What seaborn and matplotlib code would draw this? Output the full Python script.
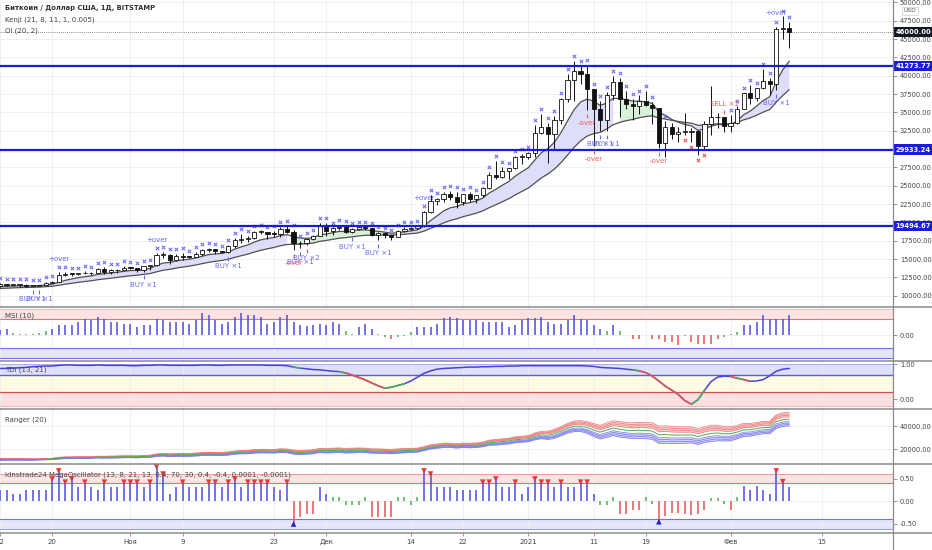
import numpy as np
import pandas as pd
import seaborn as sns
import matplotlib.pyplot as plt
from matplotlib.lines import Line2D
from matplotlib.transforms import offset_copy, blended_transform_factory

# daily candles BTC/USD (Bitstamp), 12 Oct 2020 .. 10 Feb 2021
dates = pd.date_range("2020-10-12", "2021-02-10", freq="D")
opens = [11380, 11540, 11425, 11430, 11505, 11320, 11365, 11500, 11750, 11915,
         12810, 12985, 12930, 13125, 13040, 13070, 13650, 13280, 13460, 13560,
         13800, 13760, 13550, 14030, 14150, 15590, 15590, 14830, 15480, 15330,
         15310, 15700, 16290, 16330, 16070, 15960, 16720, 17660, 17800, 17830,
         18660, 18700, 18420, 18390, 19150, 18730, 17150, 17140, 17720, 18180,
         19700, 18780, 19210, 19420, 18650, 19150, 19360, 19170, 18320, 18550,
         18250, 18030, 18800, 19150, 19270, 19440, 21350, 22850, 23140, 23870,
         23480, 22730, 23820, 23240, 23720, 24690, 26450, 26250, 27030, 27360,
         28880, 28980, 29400, 32200, 32980, 32000, 33990, 36800, 39400, 40600,
         40200, 38200, 35500, 33950, 37350, 39200, 36800, 36150, 35800, 36600,
         36050, 35550, 30850, 33000, 32100, 32300, 32300, 32500, 30400, 33400,
         34300, 34300, 33100, 33500, 35500, 37650, 36900, 38300, 39250, 38900,
         46400, 46500]
highs = [11720, 11560, 11550, 11630, 11540, 11400, 11490, 11820, 12020, 13220,
         13170, 13030, 13160, 13350, 13240, 13790, 13860, 13640, 13670, 14100,
         13900, 13820, 14070, 14250, 15760, 15970, 15690, 15650, 15840, 15460,
         15950, 16340, 16480, 16330, 16150, 16880, 17860, 18480, 18140, 18800,
         18980, 18720, 18770, 19420, 19470, 18910, 17450, 17900, 18330, 19860,
         19920, 19300, 19580, 19500, 19180, 19400, 19420, 19290, 18640, 18560,
         18270, 18940, 19400, 19320, 19550, 21550, 23770, 23290, 24170, 24300,
         24100, 23830, 24100, 23790, 24780, 26870, 28400, 27500, 27380, 28990,
         29320, 29600, 33300, 34800, 33600, 34500, 36950, 40200, 41950, 41300,
         41400, 38200, 36600, 37800, 40000, 39700, 37950, 36800, 37300, 37850,
         36400, 35600, 33800, 33500, 32950, 34900, 32900, 32550, 33800, 38600,
         34900, 34300, 34700, 35900, 37650, 38700, 38300, 40900, 39700, 46700,
         48200, 47300]
lows = [11200, 11300, 11280, 11250, 11220, 11300, 11340, 11410, 11690, 11900,
        12700, 12750, 12890, 12900, 12780, 13060, 12980, 12950, 13130, 13440,
        13630, 13200, 13300, 13530, 14100, 15200, 14380, 14720, 14820, 15080,
        15280, 15460, 15970, 15720, 15800, 15870, 16570, 17230, 17350, 17760,
        18420, 17680, 18000, 18000, 18570, 16200, 16450, 16880, 17530, 18180,
        18100, 18330, 18930, 18580, 18500, 18900, 18900, 18200, 17620, 17910,
        17580, 18000, 18700, 18900, 19050, 19300, 21230, 22350, 22800, 23070,
        22000, 22400, 22720, 22700, 23430, 24500, 25850, 26100, 25850, 27320,
        28000, 28700, 28950, 32000, 28100, 29900, 33400, 36400, 36500, 38800,
        35300, 30400, 32500, 32450, 36700, 34400, 35400, 33900, 34800, 35900,
        33400, 30100, 28850, 31400, 30900, 31950, 30900, 29240, 29900, 31950,
        32900, 32300, 32300, 33400, 35400, 36200, 36600, 38200, 37400, 38100,
        45000, 43800]
closes = [11540, 11425, 11430, 11505, 11320, 11365, 11500, 11750, 11915, 12810,
          12985, 12930, 13125, 13040, 13070, 13650, 13280, 13460, 13560, 13800,
          13760, 13550, 14030, 14150, 15590, 15590, 14830, 15480, 15330, 15310,
          15700, 16290, 16330, 16070, 15960, 16720, 17660, 17800, 17830, 18660,
          18700, 18420, 18390, 19150, 18730, 17150, 17140, 17720, 18180, 19700,
          18780, 19210, 19420, 18650, 19150, 19360, 19170, 18320, 18550, 18250,
          18030, 18800, 19150, 19270, 19440, 21350, 22850, 23140, 23870, 23480,
          22730, 23820, 23240, 23720, 24690, 26450, 26250, 27030, 27360, 28880,
          28980, 29400, 32200, 32980, 32000, 33990, 36800, 39400, 40600, 40200,
          38200, 35500, 33950, 37350, 39200, 36800, 36150, 35800, 36600, 36050,
          35550, 30850, 33000, 32100, 32300, 32300, 32500, 30400, 33400, 34300,
          34300, 33100, 33500, 35500, 37650, 36900, 38300, 39250, 38900, 46400,
          46500, 46000]

# Kenji lines: values at the left edge
kenji_fast_start = 11150
kenji_slow_start = 10930
kenji_green_spans = [("2020-11-26", "2020-12-09"), ("2021-01-15", "2021-01-21")]

# dots above / below the candles
sar_red_days = ["2021-01-25", "2021-01-26", "2021-01-27", "2021-01-28"]
sar_off_days = ["2021-01-21", "2021-01-23", "2021-01-24", "2021-01-29",
                "2021-01-30", "2021-01-31"]

signals = [
    ("2020-10-17", "BUY ×1", "buy"), ("2020-10-18", "BUY ×1", "buy"),
    ("2020-10-21", "+over", "over_up"), ("2020-11-03", "BUY ×1", "buy"),
    ("2020-11-05", "+over", "over_up"), ("2020-11-16", "BUY ×1", "buy"),
    ("2020-11-26", "-over", "over_dn"), ("2020-11-27", "BUY ×1", "buy"),
    ("2020-11-28", "BUY ×2", "buy"), ("2020-12-05", "BUY ×1", "buy"),
    ("2020-12-09", "BUY ×1", "buy"), ("2020-12-16", "+over", "over_up"),
    ("2021-01-10", "-over", "over_dn"), ("2021-01-11", "-over", "over_dn"),
    ("2021-01-12", "BUY ×1", "buy"), ("2021-01-13", "BUY ×1", "buy"),
    ("2021-01-21", "-over", "over_dn"), ("2021-01-31", "SELL ×2", "sell"),
    ("2021-02-08", "BUY ×1", "buy"), ("2021-02-08", "+over", "over_up"),
]

levels = [41273.77, 29933.24, 19494.67]
last_price = 46000.00

msi = [0.20, 0.22, 0.09, 0.03, 0.03, 0.04, 0.09, 0.17, 0.22, 0.38,
       0.38, 0.38, 0.51, 0.62, 0.58, 0.71, 0.62, 0.51, 0.51, 0.42,
       0.42, 0.32, 0.38, 0.38, 0.62, 0.58, 0.51, 0.51, 0.51, 0.42,
       0.58, 0.83, 0.77, 0.58, 0.42, 0.51, 0.71, 0.83, 0.77, 0.77,
       0.71, 0.42, 0.51, 0.71, 0.77, 0.51, 0.38, 0.35, 0.38, 0.42,
       0.38, 0.51, 0.42, 0.17, 0.04, 0.32, 0.42, 0.22, 0.03, -0.08,
       -0.17, -0.08, -0.02, 0.10, 0.32, 0.32, 0.32, 0.42, 0.64, 0.71,
       0.64, 0.58, 0.58, 0.58, 0.51, 0.51, 0.51, 0.51, 0.32, 0.38,
       0.58, 0.64, 0.64, 0.71, 0.51, 0.42, 0.42, 0.58, 0.77, 0.62,
       0.58, 0.38, 0.22, 0.17, 0.38, 0.17, 0.00, -0.17, -0.17, 0.00,
       -0.17, -0.17, -0.25, -0.25, -0.38, -0.05, -0.25, -0.33, -0.33, -0.33,
       -0.17, -0.07, 0.05, 0.13, 0.38, 0.38, 0.51, 0.77, 0.62, 0.62,
       0.62, 0.77]

tdi = [0.88, 0.88, 0.89, 0.90, 0.91, 0.93, 0.94, 0.95, 0.95, 0.97,
       0.98, 0.98, 0.97, 0.97, 0.97, 0.98, 0.97, 0.97, 0.97, 0.97,
       0.96, 0.96, 0.97, 0.97, 0.98, 0.98, 0.97, 0.97, 0.97, 0.97,
       0.97, 0.98, 0.98, 0.97, 0.97, 0.98, 0.98, 0.98, 0.98, 0.98,
       0.98, 0.97, 0.97, 0.97, 0.96, 0.92, 0.89, 0.87, 0.85, 0.84,
       0.82, 0.80, 0.79, 0.75, 0.69, 0.62, 0.55, 0.46, 0.38, 0.31,
       0.34, 0.39, 0.44, 0.52, 0.63, 0.74, 0.81, 0.86, 0.88, 0.89,
       0.90, 0.91, 0.92, 0.92, 0.93, 0.93, 0.94, 0.94, 0.95, 0.95,
       0.96, 0.96, 0.96, 0.96, 0.96, 0.96, 0.96, 0.96, 0.96, 0.96,
       0.95, 0.94, 0.91, 0.90, 0.89, 0.88, 0.86, 0.84, 0.81, 0.76,
       0.66, 0.52, 0.37, 0.25, 0.13, -0.05, -0.15, -0.02, 0.25, 0.50,
       0.63, 0.66, 0.65, 0.60, 0.56, 0.51, 0.52, 0.56, 0.67, 0.80,
       0.86, 0.88]

osc = [0.26, 0.26, 0.17, 0.17, 0.26, 0.26, 0.26, 0.26, 0.50, 0.68,
       0.43, 0.50, 0.33, 0.43, 0.33, 0.26, 0.43, 0.33, 0.33, 0.43,
       0.43, 0.43, 0.33, 0.43, 0.77, 0.61, 0.17, 0.33, 0.43, 0.33,
       0.33, 0.33, 0.43, 0.43, 0.33, 0.43, 0.50, 0.33, 0.43, 0.43,
       0.43, 0.43, 0.33, 0.26, 0.43, -0.50, -0.34, -0.27, -0.27, 0.33,
       0.17, 0.10, 0.10, -0.08, -0.08, -0.08, 0.10, -0.34, -0.34, -0.34,
       -0.34, 0.10, 0.10, -0.08, 0.10, 0.68, 0.61, 0.33, 0.33, 0.33,
       0.26, 0.26, 0.26, 0.26, 0.43, 0.43, 0.50, 0.33, 0.33, 0.43,
       0.17, 0.33, 0.50, 0.43, 0.43, 0.33, 0.43, 0.33, 0.33, 0.43,
       0.43, 0.17, -0.08, -0.08, 0.10, -0.27, -0.27, -0.20, -0.20, 0.10,
       -0.05, -0.45, -0.33, -0.25, -0.25, -0.27, -0.30, -0.27, -0.20, 0.08,
       0.08, -0.05, -0.18, 0.10, 0.34, 0.26, 0.34, 0.26, 0.17, 0.68,
       0.44, 0.33]

tick_dates = ["2020-10-12", "2020-10-20", "2020-11-01", "2020-11-09", "2020-11-23",
              "2020-12-01", "2020-12-14", "2020-12-22", "2021-01-01", "2021-01-11",
              "2021-01-19", "2021-02-01", "2021-02-15"]
tick_labels = ["12", "20", "Ноя", "9", "23", "Дек", "14", "22", "2021", "11",
               "19", "Фев", "15"]

BLUE = "#4b4be0"
GREEN = "#4caf50"
RED = "#e65353"
TXT_BLUE = "#6a6aee"
TXT_RED = "#f06060"

sns.set_theme(style="white")
plt.rcParams["font.family"] = ["DejaVu Sans"]

W, H = 932, 550
AX_R = 893
fig = plt.figure(figsize=(W / 100, H / 100), dpi=100)
fig.patch.set_facecolor("white")


def panel(top, bottom):
    ax = fig.add_axes([0, 1 - bottom / H, AX_R / W, (bottom - top) / H])
    ax.set_facecolor("white")
    for s in ax.spines.values():
        s.set_visible(False)
    return ax


ax_p = panel(0, 307)
ax_m = panel(307, 361)
ax_t = panel(361, 409)
ax_r = panel(409, 464)
ax_o = panel(464, 533)
axes = [ax_p, ax_m, ax_t, ax_r, ax_o]

x = np.arange(len(dates))
tick_idx = [(pd.Timestamp(d) - dates[0]).days for d in tick_dates]
for ax in axes:
    ax.set_xlim(0.12, 136.9)
    ax.set_xticks(tick_idx)
    ax.grid(True, color="#eeeeee", lw=0.6)
    ax.set_axisbelow(True)
    ax.yaxis.tick_right()
    ax.tick_params(axis="y", direction="out", length=3, width=0.6, color="#888888",
                   labelsize=4.8, labelcolor="#444444", pad=2, right=True, left=False)
    ax.tick_params(axis="x", bottom=False, labelbottom=False)
ax_o.tick_params(axis="x", bottom=True, labelbottom=True, direction="out", length=2.5,
                 width=0.6, color="#888888", labelsize=5, labelcolor="#444444", pad=2)
ax_o.set_xticklabels(tick_labels)

# ---- price panel
o, h, l, c = map(np.array, (opens, highs, lows, closes))
ax_p.set_ylim(8460, 50320)
ax_p.set_yticks(np.arange(10000, 50001, 2500))
ax_p.yaxis.set_major_formatter(lambda v, p: f"{v:.2f}")


def ema(values, span, start):
    a = 2.0 / (span + 1)
    out, v = [], start
    for p in values:
        v += a * (p - v)
        out.append(v)
    return np.array(out)


fast = ema(closes, 8, kenji_fast_start)
slow = ema(closes, 21, kenji_slow_start)
green = np.zeros(len(x), bool)
for a_, b_ in kenji_green_spans:
    green |= (dates >= a_) & (dates <= b_)
green_fill = green | np.roll(green, 1)
ax_p.fill_between(x, fast, slow, where=~green, color="#dedefa", lw=0, zorder=1)
ax_p.fill_between(x, fast, slow, where=green_fill, color="#d9f0d9", lw=0, zorder=1)
sns.lineplot(x=x, y=fast, ax=ax_p, color="#505050", lw=0.9, zorder=3)
sns.lineplot(x=x, y=slow, ax=ax_p, color="#505050", lw=0.9, zorder=3)

bull = c >= o
body_lo = np.minimum(o, c)
body_h = np.maximum(np.abs(c - o), 110)
ax_p.vlines(x, l, h, color="#111111", lw=0.7, zorder=4)
ax_p.bar(x, body_h, bottom=body_lo, width=0.64, color=np.where(bull, "white", "#111111"),
         edgecolor="#111111", linewidth=0.6, zorder=5)

red_m = dates.isin(pd.to_datetime(sar_red_days))
off_m = dates.isin(pd.to_datetime(sar_off_days))
blue_m = ~(red_m | off_m)
gap = 680
sns.scatterplot(x=x[blue_m], y=h[blue_m] + gap, marker="x", s=6, color="#6a6af4",
                linewidth=0.75, ax=ax_p, zorder=6)
sns.scatterplot(x=x[red_m], y=l[red_m] - gap, marker="x", s=6, color="#f05050",
                linewidth=0.75, ax=ax_p, zorder=6)

for lv in levels:
    ax_p.axhline(lv, color="#1c1cd8", lw=1.6, zorder=7)
ax_p.axhline(last_price, color="#666666", lw=0.6, ls=(0, (1, 1.5)), zorder=2)

for d, text, kind in signals:
    i = (pd.Timestamp(d) - dates[0]).days
    if kind in ("buy", "over_dn"):
        price, sgn = l[i], -1
    else:
        price, sgn = h[i], 1
    col = TXT_RED if kind in ("over_dn", "sell") else TXT_BLUE
    if kind != "over_up":
        ax_p.plot([i], [price], marker="|", ms=3, mew=0.8, color=col, zorder=8,
                  transform=offset_copy(ax_p.transData, fig=fig, x=0, y=sgn * 4.3, units="points"))
    ax_p.annotate(text, (i, price), xytext=(0, sgn * 9.5), textcoords="offset points",
                  ha="center", va="center", fontsize=5, color=col, zorder=8)

btr = blended_transform_factory(ax_p.transAxes, ax_p.transData)
for lv in levels:
    ax_p.text(1.003, lv, f"{lv:.2f}", transform=btr, ha="left", va="center", fontsize=4.9,
              color="white", fontweight="bold", clip_on=False, zorder=20,
              bbox=dict(boxstyle="square,pad=0.3", fc="#1c1cd8", ec="none"))
ax_p.text(1.003, last_price, f"{last_price:.2f}", transform=btr, ha="left", va="center",
          fontsize=4.9, color="white", fontweight="bold", clip_on=False, zorder=20,
          bbox=dict(boxstyle="square,pad=0.3", fc="#131722", ec="none"))
fig.text(910 / W, 1 - 11 / H, "USD", ha="center", va="center", fontsize=4.3, color="#555555",
         bbox=dict(boxstyle="square,pad=0.3", fc="white", ec="#cccccc", lw=0.5), zorder=20)

# ---- MSI
ax_m.set_ylim(-1.0, 1.077)
ax_m.set_yticks([0])
ax_m.yaxis.set_major_formatter(lambda v, p: f"{v:.2f}")
ax_m.axhspan(0.6, 1.0, color="#fbe3e3", lw=0, zorder=0)
ax_m.axhline(0.6, color="#e57373", lw=0.8)
ax_m.axhline(1.0, color="#f2b5b5", lw=0.6)
ax_m.axhspan(-0.9, -0.5, color="#e4e4fb", lw=0, zorder=0)
ax_m.axhline(-0.5, color="#7272e2", lw=0.8)
ax_m.axhline(-0.9, color="#7272e2", lw=0.8)
mv = np.array(msi)
mcol = np.where(mv >= 0.2, BLUE, np.where(mv <= -0.1, RED, GREEN))
ax_m.vlines(x, 0, mv, colors=mcol, lw=1.1, zorder=3)

# ---- TDI
ax_t.set_ylim(-0.288, 1.095)
ax_t.set_yticks([0, 1])
ax_t.yaxis.set_major_formatter(lambda v, p: f"{v:.2f}")
ax_t.axhspan(0.7, 1.0, color="#dfdff9", lw=0, zorder=0)
ax_t.axhspan(0.2, 0.7, color="#fdfbe3", lw=0, zorder=0)
ax_t.axhspan(-0.2, 0.2, color="#fbdfdf", lw=0, zorder=0)
ax_t.axhline(1.0, color="#a0a0ee", lw=0.6)
ax_t.axhline(0.7, color="#5c5ce0", lw=1.0)
ax_t.axhline(0.2, color="#d05050", lw=0.9)
ax_t.axhline(-0.2, color="#f0a8a8", lw=0.6)
tv = np.array(tdi)
sns.lineplot(x=x, y=tv, ax=ax_t, color="#4444d6", lw=1.1, zorder=3)
for i in range(1, len(tv)):
    dlt = tv[i] - tv[i - 1]
    if dlt < -0.05:
        col = RED
    elif dlt > 0 and tv[i] < 0.5:
        col = GREEN
    elif -0.05 <= dlt < -0.025 and tv[i] < 0.9:
        col = GREEN
    else:
        continue
    ax_t.plot(x[i - 1:i + 1], tv[i - 1:i + 1], color=col, lw=1.1, zorder=4)

# ---- Ranger
ax_r.set_ylim(7470, 54680)
ax_r.set_yticks([20000, 40000])
ax_r.yaxis.set_major_formatter(lambda v, p: f"{v:.2f}")
mid = pd.Series(closes).ewm(span=2, adjust=False).mean().to_numpy()
width = (pd.Series(highs) - pd.Series(lows)).rolling(20, min_periods=1).mean().to_numpy() * 1.8
ax_r.fill_between(x, mid + 0.35 * width, mid + width, color="#f9d6d6", lw=0, zorder=1)
ax_r.fill_between(x, mid - width, mid - 0.35 * width, color="#dadaf9", lw=0, zorder=1)
for k in (0.35, 0.57, 0.78, 1.0):
    sns.lineplot(x=x, y=mid + k * width, ax=ax_r, color="#ef7b7b", lw=0.55, zorder=3)
    sns.lineplot(x=x, y=mid - k * width, ax=ax_r, color="#7b7bef", lw=0.55, zorder=3)
sns.lineplot(x=x, y=mid, ax=ax_r, color=GREEN, lw=0.7, zorder=4)

# ---- MegaOscillator
ax_o.set_ylim(-0.7, 0.833)
ax_o.set_yticks([-0.5, 0, 0.5])
ax_o.yaxis.set_major_formatter(lambda v, p: f"{v:.2f}")
ax_o.axhspan(0.4, 0.6, color="#fbe3e3", lw=0, zorder=0)
ax_o.axhline(0.6, color="#ee9a9a", lw=0.7)
ax_o.axhline(0.4, color="#e57373", lw=0.8)
ax_o.axhspan(-0.62, -0.4, color="#e4e4fb", lw=0, zorder=0)
ax_o.axhline(-0.4, color="#7272e2", lw=0.8)
ax_o.axhline(-0.62, color="#9a9aee", lw=0.7)
ov = np.array(osc)
ocol = np.where(ov >= 0.15, BLUE, np.where(ov <= -0.15, RED, GREEN))
ax_o.vlines(x, 0, ov, colors=ocol, lw=1.1, zorder=3)
top_m = ov >= 0.4
bot_m = ov <= -0.4
sns.scatterplot(x=x[top_m], y=ov[top_m], marker="v", s=16, color="#e53935",
                edgecolor="none", ax=ax_o, zorder=5)
sns.scatterplot(x=x[bot_m], y=ov[bot_m], marker="^", s=16, color="#2020c8",
                edgecolor="none", ax=ax_o, zorder=5)

# ---- titles
fig.text(5 / W, 1 - 8 / H, "Биткоин / Доллар США, 1Д, BITSTAMP", fontsize=4.9,
         fontweight="bold", color="#333333", va="center")
fig.text(5 / W, 1 - 19.5 / H, "Kenji (21, 8, 11, 1, 0.005)", fontsize=5, color="#444444", va="center")
fig.text(5 / W, 1 - 31 / H, "OI (20, 2)", fontsize=5, color="#444444", va="center")
fig.text(5 / W, 1 - 316 / H, "MSI (10)", fontsize=5, color="#444444", va="center")
fig.text(5 / W, 1 - 370 / H, "TDI (13, 21)", fontsize=5, color="#444444", va="center")
fig.text(5 / W, 1 - 420 / H, "Ranger (20)", fontsize=5, color="#444444", va="center")
fig.text(5 / W, 1 - 475 / H,
         "Idnstrade24 MegaOscillator (13, 8, 21, 13, 0.4, 70, 30, 0.4, -0.4, 0.0001, -0.0001)",
         fontsize=5, color="#444444", va="center")

# ---- separators and price-scale border
for yy in (307, 361, 409, 464, 533):
    fig.add_artist(Line2D([0, 1], [1 - yy / H, 1 - yy / H], color="#8a8a8a", lw=1.1))
fig.add_artist(Line2D([AX_R / W, AX_R / W], [0, 1], color="#8a8a8a", lw=0.9))

fig.savefig("out.png", dpi=100)
